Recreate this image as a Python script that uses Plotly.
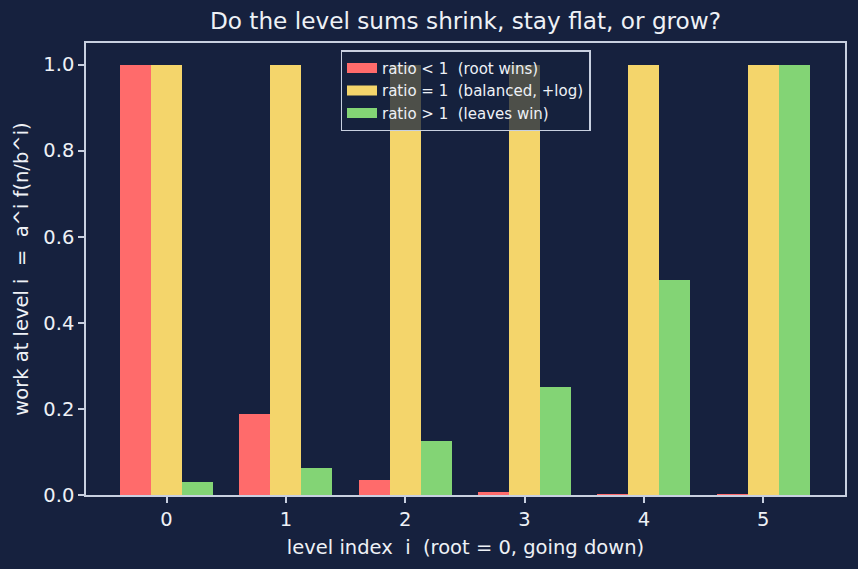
import plotly.graph_objects as go

levels = [0, 1, 2, 3, 4, 5]
tick_labels = ["0", "1", "2", "3", "4", "5"]
ratio_lt1 = [1.0, 0.1875, 0.0352, 0.0066, 0.0012, 0.0002]
ratio_eq1 = [1.0, 1.0, 1.0, 1.0, 1.0, 1.0]
ratio_gt1 = [0.03125, 0.0625, 0.125, 0.25, 0.5, 1.0]
names = ["ratio < 1  (root wins)", "ratio = 1  (balanced, +log)", "ratio > 1  (leaves win)"]
colors = ["#ff6b6b", "#f4d56b", "#83d475"]

BG = "#16213e"
FG = "#eef1f6"
SPINE = "#c8d0e0"
W = 0.26

fig = go.Figure()
for vals, name, col, off in zip([ratio_lt1, ratio_eq1, ratio_gt1], names, colors, [-W, 0, W]):
    fig.add_trace(go.Bar(
        x=levels, y=vals, name=name, width=W, offset=off - W / 2,
        marker=dict(color=col, line=dict(width=0)), showlegend=False,
    ))
# legend patches (wide rectangles like the reference)
for name, col in zip(names, colors):
    fig.add_trace(go.Scatter(
        x=[None], y=[None], mode="lines", name=name,
        line=dict(color=col, width=11), showlegend=True,
    ))

fig.update_layout(
    width=858, height=569,
    paper_bgcolor=BG, plot_bgcolor=BG,
    margin=dict(l=86, r=13, t=43, b=74),
    font=dict(family="DejaVu Sans", color=FG, size=19.5),
    title=dict(text="Do the level sums shrink, stay flat, or grow?",
               x=(86 + 845) / 2 / 858, xanchor="center", y=1 - 21 / 569, yanchor="middle",
               font=dict(size=23.2, color=FG)),
    barmode="overlay",
    bargap=0,
    showlegend=True,
    legend=dict(x=0.5, xanchor="center", y=0.984, yanchor="top",
                bgcolor="rgba(22,33,62,0.75)", bordercolor=SPINE, borderwidth=1.5,
                font=dict(size=15, color=FG), tracegroupgap=0,
                itemwidth=30),
)
fig.update_xaxes(
    range=[-0.675, 5.685], tickmode="array", tickvals=levels, ticktext=tick_labels,
    showgrid=False, zeroline=False, showline=True, linecolor=SPINE, linewidth=1.5, mirror=True,
    ticks="outside", ticklen=6, tickwidth=1.5, tickcolor=SPINE, tickfont=dict(size=19.5, color=FG),
    automargin=False,
    title=dict(text="level index  i  (root = 0, going down)", font=dict(size=19.5, color=FG), standoff=10),
)
fig.update_yaxes(
    range=[0, 1.05], tickmode="array", tickvals=[0, 0.2, 0.4, 0.6, 0.8, 1.0],
    ticktext=["0.0", "0.2", "0.4", "0.6", "0.8", "1.0"],
    showgrid=False, zeroline=False, showline=True, linecolor=SPINE, linewidth=1.5, mirror=True,
    ticks="outside", ticklen=6, tickwidth=1.5, tickcolor=SPINE, tickfont=dict(size=19.5, color=FG),
    automargin=False,
    title=dict(text="work at level i  =  a^i f(n/b^i)", font=dict(size=19.5, color=FG), standoff=10),
)

fig.write_html("out.html")
